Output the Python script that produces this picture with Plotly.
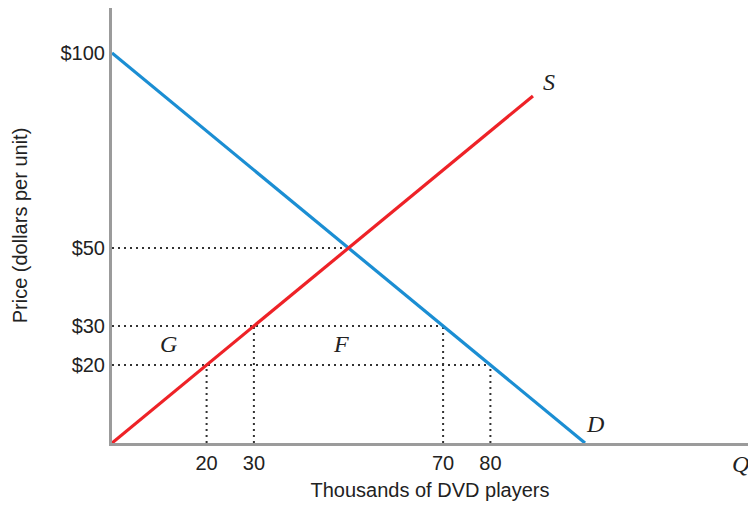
import plotly.graph_objects as go

# Data (price in dollars, quantity in thousands of DVD players)
demand_q = [0, 100]
demand_p = [100, 0]
supply_q = [0, 89]
supply_p = [0, 89]
price_ticks = [20, 30, 50, 100]
price_tick_labels = ["$20", "$30", "$50", "$100"]
qty_ticks = [20, 30, 70, 80]
qty_tick_labels = ["20", "30", "70", "80"]
guide_prices = [20, 30, 50]


def supply_q_at(p):
    return supply_q[0] + (p - supply_p[0]) * (supply_q[1] - supply_q[0]) / (supply_p[1] - supply_p[0])


def demand_q_at(p):
    return demand_q[0] + (p - demand_p[0]) * (demand_q[1] - demand_q[0]) / (demand_p[1] - demand_p[0])


BLUE = "#1b8ed3"
RED = "#ee2227"
AXIS = "#9b9b9b"
DOT = "#333333"

fig = go.Figure()

dot_style = dict(color=DOT, width=2, dash="2px,4px")

# Horizontal dotted lines
for p in guide_prices:
    qend = supply_q_at(p) if p == 50 else demand_q_at(p)
    fig.add_trace(go.Scatter(x=[0, qend], y=[p, p], mode="lines", line=dot_style,
                             hoverinfo="skip", showlegend=False))

# Vertical dotted lines
for p in [20, 30]:
    for q in [supply_q_at(p), demand_q_at(p)]:
        fig.add_trace(go.Scatter(x=[q, q], y=[0, p], mode="lines", line=dot_style,
                                 hoverinfo="skip", showlegend=False))

fig.add_trace(go.Scatter(x=demand_q, y=demand_p, mode="lines",
                         line=dict(color=BLUE, width=3.2), showlegend=False, name="D"))
fig.add_trace(go.Scatter(x=supply_q, y=supply_p, mode="lines",
                         line=dict(color=RED, width=3.2), showlegend=False, name="S"))

lab_font = dict(family="Liberation Serif", size=24, color="#222222")


def italic(t):
    return "<i>" + t + "</i>"


annotations = [
    dict(x=supply_q[1], y=supply_p[1], text=italic("S"), xshift=16, yshift=14),
    dict(x=demand_q[1], y=demand_p[1], text=italic("D"), xshift=10, yshift=19),
    dict(x=12, y=25.5, text=italic("G")),
    dict(x=48.5, y=25.5, text=italic("F")),
    dict(x=132.8, y=0, text=italic("Q"), yshift=-21),
]
for a in annotations:
    fig.add_annotation(xref="x", yref="y", showarrow=False, font=lab_font, **a)

fig.update_layout(
    width=748, height=505,
    margin=dict(l=112, r=0, t=8, b=62),
    paper_bgcolor="white", plot_bgcolor="white",
    font=dict(family="Liberation Sans", size=20, color="#222222"),
    xaxis=dict(range=[0, 134.46], showgrid=False, zeroline=False,
               showline=True, linecolor=AXIS, linewidth=3,
               tickvals=qty_ticks, ticktext=qty_tick_labels, ticks="",
               tickfont=dict(size=20),
               title=dict(text="Thousands of DVD players", standoff=10,
                          font=dict(size=20))),
    yaxis=dict(range=[0, 111.54], showgrid=False, zeroline=False,
               showline=True, linecolor=AXIS, linewidth=3,
               tickvals=price_ticks, ticktext=price_tick_labels, ticks="",
               tickfont=dict(size=20),
               title=dict(text="Price (dollars per unit)", standoff=28,
                          font=dict(size=20))),
)

fig.write_html("out.html", config={"displayModeBar": False},
               post_script="document.body.style.margin='0';")
